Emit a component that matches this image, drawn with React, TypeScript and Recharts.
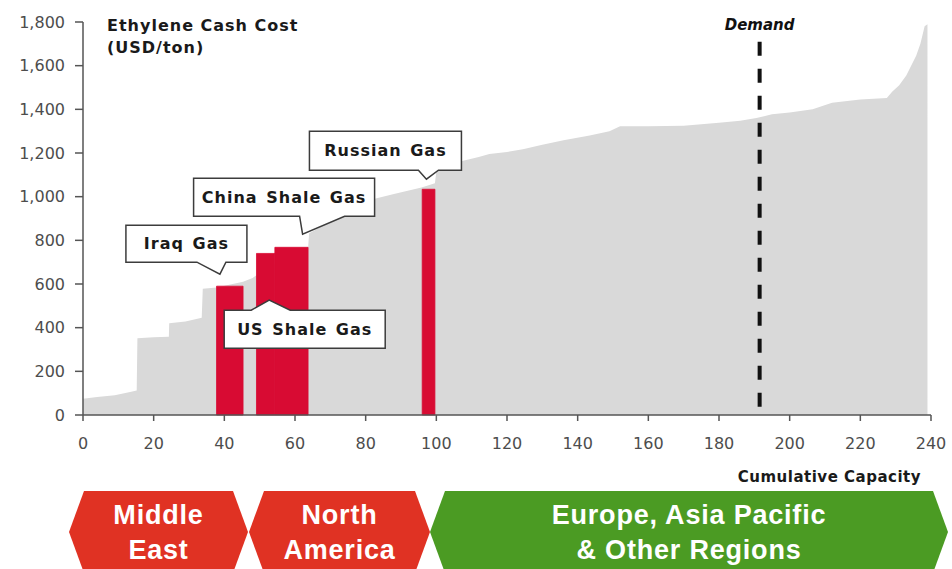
import React from 'react';
import {
  ComposedChart,
  Area,
  XAxis,
  YAxis,
  ReferenceArea,
  ReferenceLine,
  ReferenceDot,
} from 'recharts';

// cost curve (cumulative capacity vs ethylene cash cost)
const capacity = [0, 4, 9, 13, 15.2, 15.4, 20, 24.3, 24.4, 29, 33.6, 33.9, 37.8, 45.3, 48, 49.1, 54.3, 63.7, 64, 70, 76, 82, 88, 95.8, 99.6, 100, 104, 107.6, 112, 115, 120, 124.5, 130, 136, 143.4, 149, 152, 160, 170, 180, 186, 190.6, 195, 200, 206.5, 212, 220, 227.5, 229, 231, 233, 235.8, 237, 238.2, 239];
const cashCost = [75, 82, 90, 104, 112, 352, 356, 358, 420, 428, 445, 578, 584, 610, 628, 640, 690, 765, 832, 885, 940, 988, 1012, 1042, 1062, 1115, 1142, 1164, 1182, 1195, 1205, 1217, 1238, 1258, 1280, 1300, 1322, 1322, 1325, 1338, 1348, 1360, 1378, 1385, 1400, 1430, 1445, 1452, 1480, 1510, 1555, 1645, 1700, 1780, 1790];

// highlighted gas-based capacity
const gasStart = [37.8, 49.1, 54.3, 96];
const gasEnd = [45.3, 54.3, 63.7, 99.6];
const gasCost = [590, 740, 768, 1034];

// callouts
const calloutLabels = ['Iraq Gas', 'China Shale Gas', 'Russian Gas', 'US Shale Gas'];
const calloutX = [38.75, 62.15, 97.2, 52.7];
const calloutY = [645, 828, 1080, 526];

const demandCapacity = 191.5;
const xTicks = [0, 20, 40, 60, 80, 100, 120, 140, 160, 180, 200, 220, 240];
const yTicks = [0, 200, 400, 600, 800, 1000, 1200, 1400, 1600, 1800];

const regionLabels = [['Middle', 'East'], ['North', 'America'], ['Europe, Asia Pacific', '& Other Regions']];

const data = capacity.map((c, i) => ({ cap: c, cost: cashCost[i] }));

// box geometry relative to the pointer tip
const boxes = [
  { l: -94, r: 27, t: -49, b: -12, p1: -23, p2: 6, up: false },
  { l: -109, r: 72, t: -56, b: -18, p1: -3, p2: 42, up: false },
  { l: -117, r: 35, t: -48, b: -9, p1: -8, p2: 12, up: false },
  { l: -45, r: 116, t: 10, b: 48, p1: -18, p2: 21, up: true },
];

const makeCallout = (i: number) => (props: any) => {
  const { cx, cy } = props;
  const g = boxes[i];
  const L = cx + g.l, R = cx + g.r, T = cy + g.t, B = cy + g.b;
  const d = g.up
    ? `M${L},${T} L${cx + g.p1},${T} L${cx},${cy} L${cx + g.p2},${T} L${R},${T} L${R},${B} L${L},${B} Z`
    : `M${L},${T} L${R},${T} L${R},${B} L${cx + g.p2},${B} L${cx},${cy} L${cx + g.p1},${B} L${L},${B} Z`;
  return (
    <g>
      <path d={d} fill="#fff" stroke="#3c3c3c" strokeWidth={1.5} />
      <text
        x={(L + R) / 2}
        y={(T + B) / 2}
        textAnchor="middle"
        dominantBaseline="central"
        fontFamily="DejaVu Sans"
        fontWeight="bold"
        fontSize={16}
        letterSpacing={1}
        wordSpacing={2}
        fill="#1a1a1a"
      >
        {calloutLabels[i]}
      </text>
    </g>
  );
};

const chevrons = [
  { x0: 69, x1: 248, fill: '#e03223' },
  { x0: 249, x1: 430, fill: '#e03223' },
  { x0: 430, x1: 948, fill: '#4b9b23' },
];

function Regions() {
  const top = 491, mid = 532, bot = 573, dep = 15;
  return (
    <svg width={952} height={569} style={{ position: 'absolute', left: 0, top: 0, pointerEvents: 'none' }}>
      <text x={107} y={25} dominantBaseline="central" fontFamily="DejaVu Sans" fontWeight="bold" fontSize={16} letterSpacing={1} fill="#1a1a1a">
        Ethylene Cash Cost
      </text>
      <text x={107} y={47} dominantBaseline="central" fontFamily="DejaVu Sans" fontWeight="bold" fontSize={16} letterSpacing={1} fill="#1a1a1a">
        (USD/ton)
      </text>
      <text x={921} y={477} textAnchor="end" dominantBaseline="central" fontFamily="DejaVu Sans" fontWeight="bold" fontSize={15} letterSpacing={0.5} fill="#1a1a1a">
        Cumulative Capacity
      </text>
      {chevrons.map((c, i) => (
        <g key={i}>
          <polygon
            points={`${c.x0},${mid} ${c.x0 + dep},${top} ${c.x1 - dep},${top} ${c.x1},${mid} ${c.x1 - dep},${bot} ${c.x0 + dep},${bot}`}
            fill={c.fill}
          />
          {regionLabels[i].map((line, j) => (
            <text
              key={j}
              x={(c.x0 + c.x1) / 2}
              y={515 + j * 35}
              textAnchor="middle"
              dominantBaseline="central"
              fontFamily="Liberation Sans"
              fontWeight="bold"
              fontSize={27}
              letterSpacing={0.8}
              fill="#fff"
            >
              {line}
            </text>
          ))}
        </g>
      ))}
    </svg>
  );
}

export default function App() {
  const tick = { fontFamily: 'DejaVu Sans', fontSize: 16, fill: '#4d4d4d' };
  return (
    <div style={{ position: 'absolute', left: 0, top: 0, width: 952, height: 569, background: '#fff' }}>
      <ComposedChart width={952} height={569} data={data} margin={{ top: 22, right: 21, left: 0, bottom: 124 }}>
        <XAxis
          dataKey="cap"
          type="number"
          domain={[0, 240]}
          ticks={xTicks}
          height={30}
          tickSize={6}
          tickMargin={17}
          tick={tick}
          stroke="#555"
          strokeWidth={1.5}
          interval={0}
        />
        <YAxis
          type="number"
          domain={[0, 1800]}
          ticks={yTicks}
          width={83}
          tickSize={8}
          tickMargin={10}
          tick={tick}
          stroke="#555"
          strokeWidth={1.5}
          interval={0}
          tickFormatter={(v: number) => v.toLocaleString('en-US')}
        />
        <Area
          type="linear"
          dataKey="cost"
          stroke="none"
          fill="#d9d9d9"
          fillOpacity={1}
          isAnimationActive={false}
        />
        {gasStart.map((s, i) => (
          <ReferenceArea
            key={i}
            x1={s}
            x2={gasEnd[i]}
            y1={0}
            y2={gasCost[i]}
            fill="#d80b33"
            fillOpacity={1}
            stroke="#d80b33"
            strokeWidth={0.8}
            ifOverflow="visible"
          />
        ))}
        <ReferenceLine
          segment={[{ x: demandCapacity, y: 1710 }, { x: demandCapacity, y: 0 }]}
          stroke="#111"
          strokeWidth={4}
          strokeDasharray="14 13"
          label={{
            value: 'Demand',
            position: 'top',
            offset: 12,
            fontFamily: 'DejaVu Sans',
            fontWeight: 'bold',
            fontStyle: 'italic',
            fontSize: 15,
            fill: '#111',
          }}
        />
        {calloutX.map((x, i) => (
          <ReferenceDot key={i} x={x} y={calloutY[i]} r={0} ifOverflow="visible" shape={makeCallout(i)} />
        ))}
      </ComposedChart>
      <Regions />
    </div>
  );
}
